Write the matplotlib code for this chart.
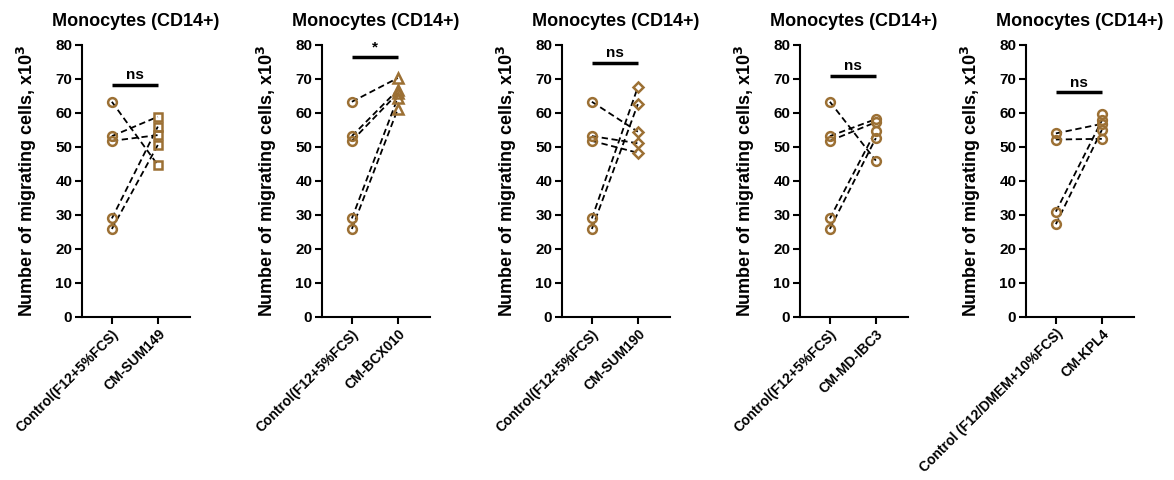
import numpy as np
import matplotlib
matplotlib.use("Agg")
import matplotlib.pyplot as plt

plt.rcParams['font.family'] = ['Liberation Sans', 'DejaVu Sans']
plt.rcParams['font.weight'] = 'bold'

# Data (x10^3 migrating cells)
control_f12 = [63.3, 53.2, 51.8, 29.0, 25.9]
cm_sum149 = [44.7, 58.9, 53.5, 56.0, 50.6]
cm_bcx010 = [70.3, 66.8, 65.8, 64.5, 61.2]
cm_sum190 = [54.5, 51.1, 48.3, 67.6, 62.6]
cm_mdibc3 = [46.0, 58.2, 57.3, 54.8, 52.6]
control_dmem = [54.0, 52.2, 31.0, 27.3]
cm_kpl4 = [56.8, 52.4, 57.8, 55.0]
cm_kpl4_extra = [59.7]

labels_a = ['Control(F12+5%FCS)'] * 4 + ['Control (F12/DMEM+10%FCS)']
labels_b = ['CM-SUM149', 'CM-BCX010', 'CM-SUM190', 'CM-MD-IBC3', 'CM-KPL4']
sig_text = ['ns', '*', 'ns', 'ns', 'ns']
sig_height = [68.3, 76.5, 74.8, 71.0, 66.1]

panels = [
    (control_f12, cm_sum149, 's'),
    (control_f12, cm_bcx010, '^'),
    (control_f12, cm_sum190, 'D'),
    (control_f12, cm_mdibc3, 'o'),
    (control_dmem, cm_kpl4, 'o'),
]

brown = '#9C7034'
lefts = [82, 322, 562, 800, 1026]
msizes = {'s': 6.0, '^': 6.5, 'D': 5.2, 'o': 6.3}

fig = plt.figure(figsize=(11.74, 4.8), dpi=100)

for i, (ctrl, cm, mk) in enumerate(panels):
    ax = fig.add_axes([lefts[i] / 1174, 1 - 317 / 480, 108 / 1174, 272 / 480])
    for a, b in zip(ctrl, cm):
        ax.plot([0, 1], [a, b], color='black', linestyle=(0, (3.5, 2)), linewidth=1.3, zorder=2)
    ax.plot(np.zeros(len(ctrl)), ctrl, 'o', mfc='none', mec=brown, mew=1.8, ms=msizes['o'],
            linestyle='none', zorder=3)
    cm_pts = list(cm) + (cm_kpl4_extra if i == 4 else [])
    ax.plot(np.ones(len(cm_pts)), cm_pts, mk, mfc='none', mec=brown, mew=1.8, ms=msizes[mk],
            linestyle='none', zorder=3)

    # significance bar
    ax.plot([0, 1], [sig_height[i], sig_height[i]], color='black', linewidth=2.5, solid_capstyle='butt')
    ax.text(0.5, sig_height[i] + 0.8, sig_text[i], ha='center', va='bottom', fontsize=11, fontweight='bold')

    ax.set_xlim(-0.65, 1.70)
    ax.set_ylim(0, 80)
    ax.set_yticks(range(0, 81, 10))
    ax.set_xticks([0, 1])
    ax.set_xticklabels([labels_a[i], labels_b[i]], rotation=45, ha='right', rotation_mode='anchor',
                       fontsize=10, fontweight='bold')
    for t in ax.get_yticklabels():
        t.set_fontweight('bold')
        t.set_fontsize(11)
    ax.spines['top'].set_visible(False)
    ax.spines['right'].set_visible(False)
    ax.spines['left'].set_linewidth(1.5)
    ax.spines['bottom'].set_linewidth(1.5)
    ax.tick_params(axis='both', width=1.5, length=5, pad=2)
    ax.set_ylabel('Number of migrating cells, x10$^{\\mathbf{3}}$', fontsize=13, fontweight='bold', labelpad=12)
    ax.set_title('Monocytes (CD14+)', fontsize=13, fontweight='bold', pad=14)

fig.savefig('out.png', dpi=100)
